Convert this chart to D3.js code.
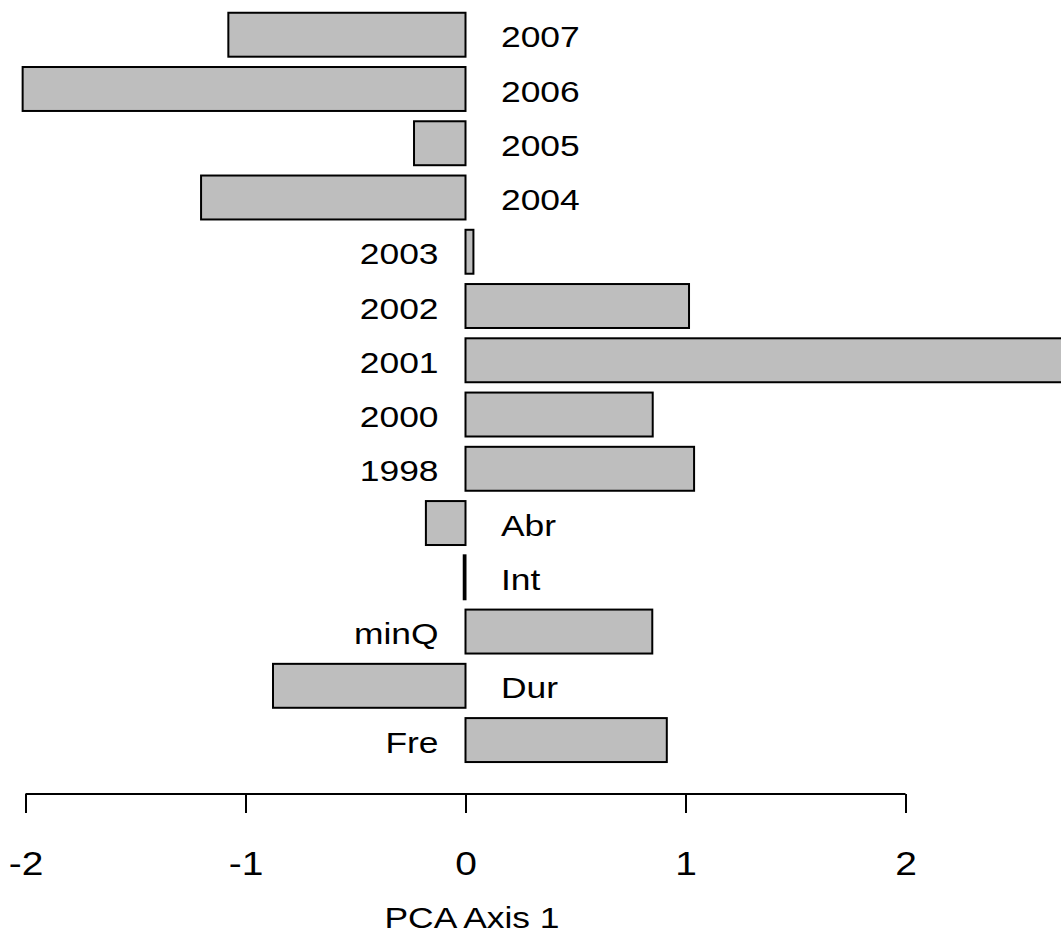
<html>
<head>
    <script src='https://d3js.org/d3.v7.min.js'></script>
    <style>
    body { margin: 0; background: white; }
    .font { font-family: "Liberation Sans", Arial, sans-serif; fill: black; }
    </style>
</head>
<body>
<svg width=1061 height=936></svg>

<script>
  var width = 1061;
  var height = 936;
  var stretch = 1.18; // text in the reference is a bit wider than normal

  var labels = ["2007", "2006", "2005", "2004", "2003", "2002", "2001", "2000", "1998",
                "Abr", "Int", "minQ", "Dur", "Fre"];
  var scores = [-1.078, -2.013, -0.234, -1.202, 0.036, 1.016, 2.8, 0.851, 1.039,
                -0.18, -0.008, 0.849, -0.875, 0.915];
  var ticks = [-2, -1, 0, 1, 2];

  var svg = d3.select("svg");

  var xs = d3.scaleLinear().domain([-2, 2]).range([25.5, 905.5]);
  var ys = d3.scaleBand().domain(labels).range([7.6, 767.2]).paddingInner(0.19).paddingOuter(0.095);

  svg.append("g")
    .selectAll("rect").data(labels).enter()
    .append("rect")
    .attr("x", (d, i) => Math.min(xs(0), xs(scores[i])))
    .attr("y", d => ys(d))
    .attr("width", (d, i) => Math.abs(xs(scores[i]) - xs(0)))
    .attr("height", ys.bandwidth())
    .attr("fill", "#bebebe")
    .attr("stroke", "black")
    .attr("stroke-width", 2);

  svg.append("g")
    .selectAll("text").data(labels).enter()
    .append("text")
    .attr("class", "font")
    .style("font-size", "30px")
    .attr("text-anchor", (d, i) => scores[i] < 0 ? "start" : "end")
    .attr("transform", function(d, i) {
      var x = scores[i] < 0 ? xs(0) + 35.5 : xs(0) - 27;
      var y = ys(d) + ys.bandwidth() / 2 + 12.6;
      return "translate(" + x + "," + y + ") scale(" + stretch + ",1)";
    })
    .text(d => d);

  // x axis
  var axis = svg.append("g").attr("transform", "translate(0,794)")
    .call(d3.axisBottom(xs).tickValues(ticks).tickSize(19).tickFormat(d3.format("d")));
  axis.select(".domain").attr("stroke-width", 2).attr("d", "M" + xs(-2) + ",0H" + xs(2));
  axis.selectAll(".tick line").attr("stroke-width", 2);
  axis.selectAll(".tick text").remove();

  axis.selectAll(".tick").append("text")
    .attr("class", "font")
    .style("font-size", "33px")
    .attr("text-anchor", "middle")
    .attr("transform", "translate(0,81) scale(" + stretch + ",1)")
    .text(d => d3.format("d")(d).replace("−", "-"));

  svg.append("text")
    .attr("class", "font")
    .style("font-size", "30px")
    .attr("text-anchor", "middle")
    .attr("transform", "translate(472,927.5) scale(" + stretch + ",1)")
    .text("PCA Axis 1");
</script>

</body>
</html>
